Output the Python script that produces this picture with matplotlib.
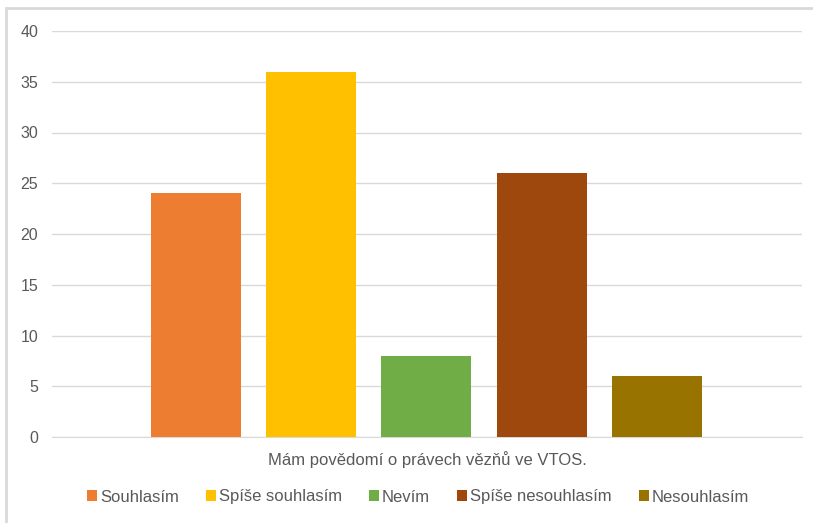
import matplotlib.pyplot as plt
from matplotlib.patches import Rectangle

categories = ['Souhlasím', 'Spíše souhlasím', 'Nevím', 'Spíše nesouhlasím', 'Nesouhlasím']
values = [24, 36, 8, 26, 6]
colors = ['#ED7D31', '#FFC000', '#70AD47', '#9E480E', '#997300']
yticks = [0, 5, 10, 15, 20, 25, 30, 35, 40]
xlabel = 'Mám povědomí o právech vězňů ve VTOS.'

plt.rcParams['font.family'] = ['Liberation Sans Narrow', 'Liberation Sans', 'DejaVu Sans']

fig = plt.figure(figsize=(8.13, 5.23), dpi=100)
fig.patches.append(Rectangle((6/813, -0.1), 1.2, 1 - 8/523 + 0.1, transform=fig.transFigure,
                             fill=False, edgecolor='#D9D9D9', linewidth=2))
ax = fig.add_axes([52/813, 1 - 437/523, 750/813, 406/523])

for i in range(len(values)):
    ax.bar(i, values[i], width=0.78, color=colors[i], label=categories[i], zorder=3)

ax.set_xlim(-1.25, 5.26)
ax.set_ylim(0, 40)
ax.set_yticks(yticks)
ax.tick_params(axis='y', length=0, labelsize=11.5, labelcolor='#595959', pad=10)
ax.set_xticks([])
ax.grid(axis='y', color='#D9D9D9', linewidth=1, zorder=0)
for s in ['top', 'right', 'left']:
    ax.spines[s].set_visible(False)
ax.spines['bottom'].set_color('#D9D9D9')
ax.set_xlabel(xlabel, fontsize=12, color='#595959', labelpad=10)

leg = fig.legend(loc='center', bbox_to_anchor=(418/813, 1 - 497/523), ncol=5, frameon=False,
                 fontsize=12, handlelength=0.6, handleheight=0.6, handletextpad=0.2,
                 columnspacing=1.6)
for t in leg.get_texts():
    t.set_color('#595959')

fig.savefig('out.png', dpi=100)
